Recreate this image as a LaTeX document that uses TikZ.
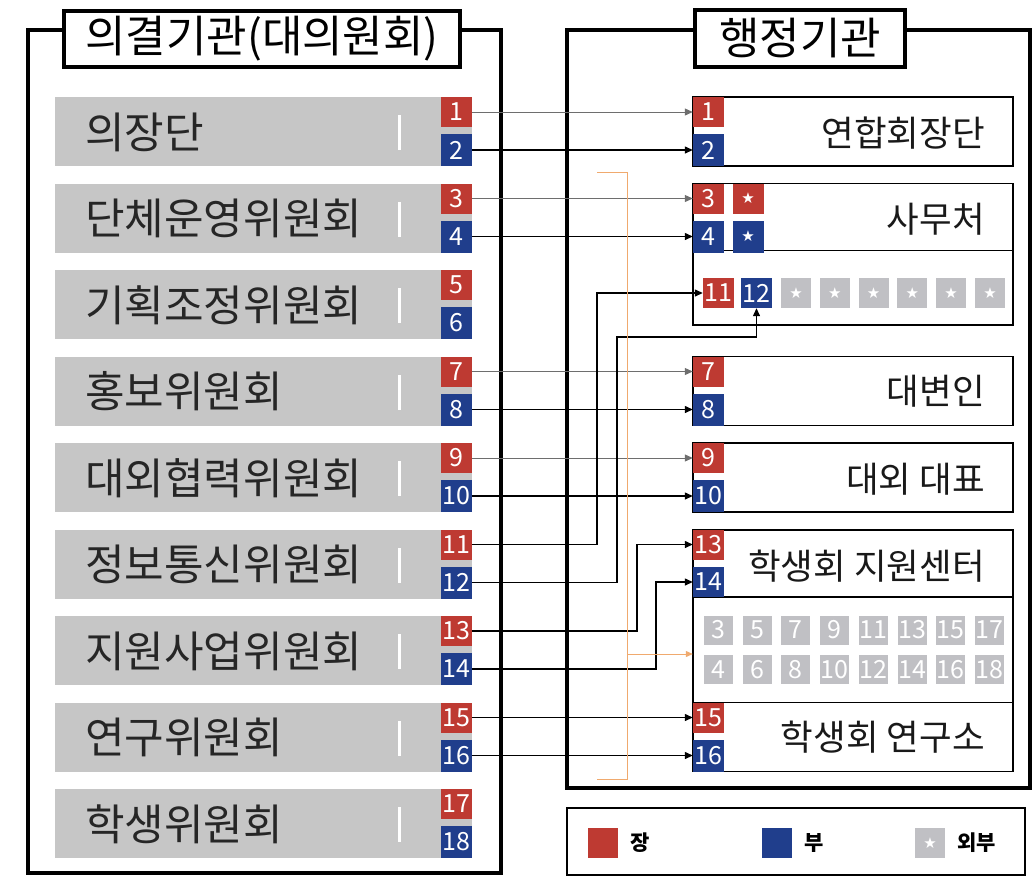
\documentclass[tikz,border=0pt]{standalone}
\usepackage{fontspec}
\setmainfont{Noto Sans CJK KR}
\newfontfamily\symf{DejaVu Sans}
\usetikzlibrary{arrows.meta}
\definecolor{rd}{RGB}{190,58,50}
\definecolor{bl}{RGB}{32,62,140}
\definecolor{gb}{RGB}{198,198,198}
\definecolor{gs}{RGB}{192,192,196}
\definecolor{og}{RGB}{240,170,110}
\definecolor{lg}{RGB}{110,110,110}
\newcommand\mystar{{\symf\fontsize{15}{15}\selectfont ★}}
\begin{document}
\begin{tikzpicture}[x=1pt,y=-1pt,
 badge/.style={inner sep=0pt, minimum width=31pt, minimum height=30pt, text=white, font=\fontsize{25}{25}\selectfont},
 redb/.style={badge, fill=rd},
 blueb/.style={badge, fill=bl, minimum height=32pt},
 grayb/.style={badge, fill=gs, minimum width=29pt, minimum height=29pt},
 starb/.style={badge, fill=gs, minimum width=30pt, minimum height=30pt},
 bar/.style={fill=gb, inner sep=0pt, minimum width=417pt, minimum height=69pt},
 ltxt/.style={anchor=west, inner sep=0pt, text=black!85, font=\fontsize{43}{45}\selectfont},
 rtxt/.style={anchor=east, inner sep=0pt, text=black!90, font=\fontsize{35.5}{37}\selectfont},
 tick/.style={fill=white, inner sep=0pt, minimum width=3pt, minimum height=35pt},
 panel/.style={draw, line width=4pt, inner sep=0pt},
 ptitle/.style={draw, line width=4pt, fill=white, inner sep=0pt, font=\fontsize{44}{46}\selectfont},
 rbox/.style={draw, line width=1.4pt, inner sep=0pt, minimum width=320pt},
 conn/.style={line width=1.3pt, -{Triangle[length=8pt,width=7pt]}},
 connl/.style={conn, draw=lg, line width=1pt},
 orl/.style={draw=og, line width=1pt},
 legtxt/.style={anchor=west, inner sep=0pt, font=\fontsize{21}{22}\selectfont\bfseries}
]
\useasboundingbox (0,0) rectangle (1035,876);
% panels
\node[panel, minimum width=473pt, minimum height=843pt] (lp) at (264.5,451.5) {};
\node[panel, minimum width=463pt, minimum height=758pt] (rp) at (798.5,409) {};
\node[ptitle, minimum width=396pt, minimum height=56pt] (lt) at (262,39) {의결기관(대의원회)};
\node[ptitle, minimum width=210pt, minimum height=57pt] (rt) at (800,38) {행정기관};
% left rows
\foreach \t [count=\k] in {의장단,단체운영위원회,기획조정위원회,홍보위원회,대외협력위원회,정보통신위원회,지원사업위원회,연구위원회,학생위원회}{
  \pgfmathsetmacro\tp{97+86.5*(\k-1)}
  \pgfmathtruncatemacro\a{2*\k-1}
  \pgfmathtruncatemacro\b{2*\k}
  \node[bar] (bar\k) at (263.5,\tp+34.5) {};
  \node[ltxt] (lt\k) at (85,\tp+35) {\t};
  \node[tick] (tk\k) at (399,\tp+35.5) {};
  \node[redb] (L\a) at (456.5,\tp+15) {\a};
  \node[blueb] (L\b) at (456.5,\tp+53) {\b};
}
% right boxes
\node[rbox, minimum height=69pt] (boxA) at (853,131.5) {};
\node[rtxt] (tA) at (985,133) {연합회장단};
\node[redb] (R1) at (708.5,112) {1};
\node[blueb] (R2) at (708.5,150) {2};

\node[rbox, minimum height=141.5pt] (boxB) at (853,254.25) {};
\draw[line width=1.4pt] (693,250.5) -- (1013,250.5);
\node[rtxt] (tB) at (985,219) {사무처};
\node[redb] (R3) at (708.5,198.5) {3};
\node[blueb] (R4) at (708.5,236.5) {4};
\node[redb] (S3) at (748,198.5) {\mystar};
\node[blueb] (S4) at (748,236.5) {\mystar};
\node[redb] (B11) at (718.5,293) {11};
\node[blueb, minimum height=30pt] (B12) at (756.5,293) {12};
\foreach \j in {0,...,5}{
  \node[starb] (BS\j) at (796+38.8*\j,293) {\mystar};
}

\node[rbox, minimum height=69pt] (boxC) at (853,391) {};
\node[rtxt] (tC) at (985,391) {대변인};
\node[redb] (R7) at (708.5,371.5) {7};
\node[blueb] (R8) at (708.5,409.5) {8};

\node[rbox, minimum height=69pt] (boxD) at (853,477.5) {};
\node[rtxt] (tD) at (985,479) {대외 대표};
\node[redb] (R9) at (708.5,458) {9};
\node[blueb] (R10) at (708.5,496) {10};

\node[rbox, minimum height=241.5pt] (boxE) at (853,650.75) {};
\draw[line width=1.4pt] (693,597) -- (1013,597);
\draw[line width=1.4pt] (693,702.5) -- (1013,702.5);
\node[inner sep=0pt, minimum width=320pt, minimum height=105.5pt] (Emid) at (853,649.75) {};
\node[rtxt] (tE) at (985,566) {학생회 지원센터};
\node[rtxt] (tF) at (985,737) {학생회 연구소};
\node[redb] (R13) at (708.5,544.5) {13};
\node[blueb, minimum height=30pt] (R14) at (708.5,582) {14};
\node[redb] (R15) at (708.5,717.5) {15};
\node[blueb] (R16) at (708.5,755.5) {16};
\foreach \n [count=\i from 0] in {3,5,7,9,11,13,15,17}{
  \node[grayb] (G\n) at (718.5+38.7*\i,630) {\n};
}
\foreach \n [count=\i from 0] in {4,6,8,10,12,14,16,18}{
  \node[grayb] (G\n) at (718.5+38.7*\i,669.5) {\n};
}
% straight connectors
\foreach \n in {1,3,7,9}{
  \draw[connl] (L\n.east) -- (R\n.west);
}
\foreach \n in {2,4,8,10,15,16}{
  \draw[conn] (L\n.east) -- (R\n.west);
}
% routed connectors
\coordinate (v11) at (597,0);
\coordinate (v12) at (617,337);
\coordinate (v13) at (637,0);
\coordinate (v14) at (656,0);
\draw[conn] (L11.east) -| (v11 |- B11.west) -- (B11.west);
\draw[conn] (L12.east) -| (v12) -| (B12.south);
\draw[conn] (L13.east) -| (v13 |- R13.west) -- (R13.west);
\draw[conn] (L14.east) -| (v14 |- R14.west) -- (R14.west);
% orange bracket
\coordinate (o1) at (597,172);
\coordinate (o2) at (627,172);
\coordinate (o3) at (627,779);
\coordinate (o4) at (597,779);
\coordinate (o5) at (627,654);
\draw[orl] (o1) -- (o2) -- (o3) -- (o4);
\draw[orl, -{Triangle[length=7pt,width=6pt]}] (o5) -- (o5 -| Emid.west);
% legend
\node[draw, line width=1.8pt, inner sep=0pt, minimum width=458pt, minimum height=67pt] (leg) at (796,841.5) {};
\node[fill=rd, inner sep=0pt, minimum size=30pt] (k1) at (603,843) {};
\node[legtxt] (k1t) at (630,843) {장};
\node[fill=bl, inner sep=0pt, minimum size=30pt] (k2) at (777,843) {};
\node[legtxt] (k2t) at (804,843) {부};
\node[starb] (k3) at (930,843) {\mystar};
\node[legtxt] (k3t) at (957,843) {외부};
\end{tikzpicture}
\end{document}
